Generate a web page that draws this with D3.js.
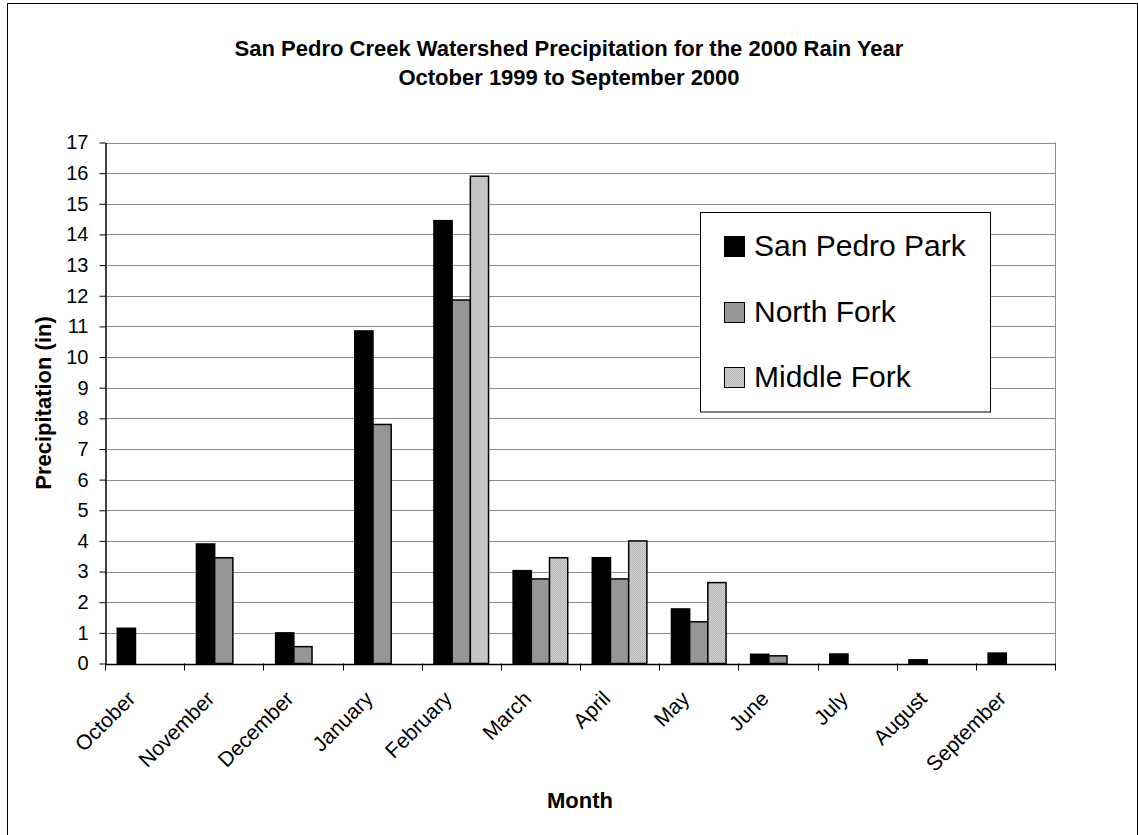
<!DOCTYPE html>
<html>
<head>
<meta charset="utf-8">
<script src="https://cdn.jsdelivr.net/npm/d3@7"></script>
<style>
  html, body { margin: 0; padding: 0; background: #fff; }
  svg { display: block; font-family: "Liberation Sans", Arial, sans-serif; }
</style>
</head>
<body>
<svg id="chart" width="1138" height="835"></svg>
<script>
// Monthly precipitation (inches), October 1999 – September 2000
const months = ["October", "November", "December", "January", "February", "March",
                "April", "May", "June", "July", "August", "September"];
const seriesNames = ["San Pedro Park", "North Fork", "Middle Fork"];
const sanPedroPark = [1.15, 3.9, 1.0, 10.85, 14.45, 3.03, 3.45, 1.78, 0.30, 0.31, 0.12, 0.34];
const northFork    = [0, 3.45, 0.55, 7.8, 11.86, 2.76, 2.76, 1.36, 0.25, 0, 0, 0];
const middleFork   = [0, 0, 0, 0, 15.9, 3.45, 4.0, 2.64, 0, 0, 0, 0];
const yTicks = d3.range(0, 18);

const seriesValues = [sanPedroPark, northFork, middleFork];

const svg = d3.select("#chart");
const margin = { left: 105, right: 1055, top: 142.5, bottom: 663.5 };

// Patterned fill for the third series
const defs = svg.append("defs");
const pat = defs.append("pattern")
  .attr("id", "dots")
  .attr("width", 2).attr("height", 2)
  .attr("patternUnits", "userSpaceOnUse");
pat.append("rect").attr("width", 2).attr("height", 2).attr("fill", "#d4d4d4");
pat.append("rect").attr("width", 1).attr("height", 1).attr("fill", "#b4b4b4");
pat.append("rect").attr("x", 1).attr("y", 1).attr("width", 1).attr("height", 1).attr("fill", "#b4b4b4");

const fills = ["#000000", "#969696", "url(#dots)"];

// Outer chart frame
svg.append("rect")
  .attr("x", 7.5).attr("y", 3.5)
  .attr("width", 1130).attr("height", 840)
  .attr("fill", "none").attr("stroke", "#000").attr("stroke-width", 1);

const x0 = d3.scaleBand().domain(months).range([margin.left, margin.right]).padding(0);
const x1 = d3.scaleBand().domain(seriesNames).range([0, x0.bandwidth()])
  .paddingInner(0).paddingOuter(0.675);
const y = d3.scaleLinear().domain([0, 17]).range([margin.bottom, margin.top]);

// Gridlines
svg.append("g")
  .selectAll("line")
  .data(yTicks.filter(d => d > 0))
  .join("line")
  .attr("x1", margin.left).attr("x2", margin.right)
  .attr("y1", d => Math.round(y(d)) + 0.5).attr("y2", d => Math.round(y(d)) + 0.5)
  .attr("stroke", "#8c8c8c").attr("stroke-width", 1);

// Right edge of plot area
svg.append("line")
  .attr("x1", margin.right + 0.5).attr("x2", margin.right + 0.5)
  .attr("y1", margin.top).attr("y2", margin.bottom)
  .attr("stroke", "#8c8c8c");

// Bars
const groups = svg.append("g")
  .selectAll("g")
  .data(months)
  .join("g")
  .attr("transform", d => `translate(${x0(d)},0)`);

groups.selectAll("rect")
  .data((m, i) => seriesNames.map((s, k) => ({ s, k, v: seriesValues[k][i] })).filter(d => d.v > 0))
  .join("rect")
  .attr("x", d => x1(d.s))
  .attr("y", d => y(d.v))
  .attr("width", x1.bandwidth())
  .attr("height", d => y(0) - y(d.v))
  .attr("fill", d => fills[d.k])
  .attr("stroke", "#000")
  .attr("stroke-width", 1.5);

// Y axis
const yAxis = svg.append("g")
  .attr("transform", `translate(${margin.left + 0.5},0)`)
  .call(d3.axisLeft(y).tickValues(yTicks).tickFormat(d3.format("d")).tickSize(6).tickSizeOuter(0));
yAxis.select(".domain").attr("stroke", "#000").attr("stroke-width", 1.5);
yAxis.selectAll(".tick line").attr("stroke", "#000");
yAxis.selectAll("text")
  .attr("font-size", 20).attr("font-family", "Liberation Sans, Arial, sans-serif")
  .attr("fill", "#000").attr("x", -17);

// X axis
const xAxis = svg.append("g")
  .attr("transform", `translate(0,${margin.bottom + 0.5})`)
  .call(d3.axisBottom(x0).tickSize(0).tickSizeOuter(0));
xAxis.select(".domain").attr("stroke", "#000").attr("stroke-width", 1.5);
// Ticks on category boundaries
svg.append("g")
  .selectAll("line")
  .data(months.concat(["end"]))
  .join("line")
  .attr("x1", (d, i) => Math.round(margin.left + i * x0.step()) + 0.5)
  .attr("x2", (d, i) => Math.round(margin.left + i * x0.step()) + 0.5)
  .attr("y1", margin.bottom).attr("y2", margin.bottom + 7)
  .attr("stroke", "#000");
// Each label ends near its band center, rotated 45 degrees
xAxis.selectAll(".tick")
  .attr("transform", d => `translate(${x0(d)},0)`);
xAxis.selectAll(".tick text")
  .attr("font-size", 21).attr("font-family", "Liberation Sans, Arial, sans-serif")
  .attr("fill", "#000")
  .attr("text-anchor", "end")
  .attr("x", 0).attr("y", 0).attr("dy", 0)
  .attr("transform", `translate(${x0.bandwidth() / 2 - 8},${36}) rotate(-45)`);

// Titles
svg.append("text")
  .attr("x", 569).attr("y", 56)
  .attr("text-anchor", "middle")
  .attr("font-size", 22).attr("font-weight", "bold")
  .text("San Pedro Creek Watershed Precipitation for the 2000 Rain Year");
svg.append("text")
  .attr("x", 569).attr("y", 85)
  .attr("text-anchor", "middle")
  .attr("font-size", 22).attr("font-weight", "bold")
  .text("October 1999 to September 2000");

svg.append("text")
  .attr("x", (margin.left + margin.right) / 2).attr("y", 808)
  .attr("text-anchor", "middle")
  .attr("font-size", 22).attr("font-weight", "bold")
  .text("Month");

svg.append("text")
  .attr("transform", `translate(51,${(margin.top + margin.bottom) / 2}) rotate(-90)`)
  .attr("text-anchor", "middle")
  .attr("font-size", 22).attr("font-weight", "bold")
  .text("Precipitation (in)");

// Legend
const legend = svg.append("g");
legend.append("rect")
  .attr("x", 700.5).attr("y", 212.5)
  .attr("width", 290).attr("height", 199.5)
  .attr("fill", "#fff").attr("stroke", "#000").attr("stroke-width", 1);
const rowBase = [255.5, 321.5, 386.5];
seriesNames.forEach((name, k) => {
  legend.append("rect")
    .attr("x", 724.5).attr("y", rowBase[k] - 19)
    .attr("width", 20).attr("height", 20)
    .attr("fill", fills[k]).attr("stroke", "#000").attr("stroke-width", 1);
  legend.append("text")
    .attr("x", 754).attr("y", rowBase[k])
    .attr("font-size", 30)
    .text(name);
});
</script>
</body>
</html>
